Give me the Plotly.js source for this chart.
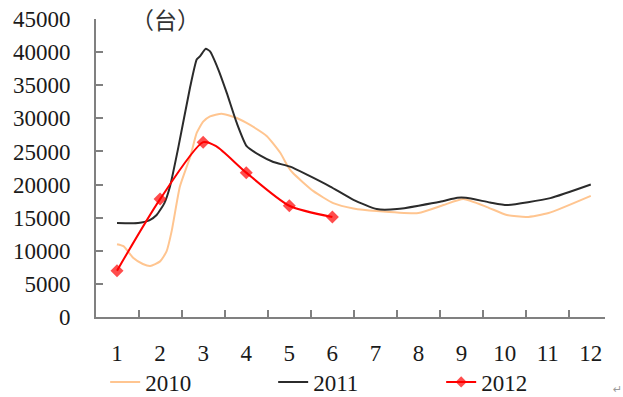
<!DOCTYPE html>
<html>
<head>
<meta charset="utf-8">
<script src="https://cdn.plot.ly/plotly-3.0.1.min.js"></script>
<style>html,body{margin:0;padding:0;background:#fff;}#chart{width:623px;height:397px;}</style>
</head>
<body>
<div id="chart"></div>
<script>
// ---- data (units: 台) ----
const monthLabels = ['1','2','3','4','5','6','7','8','9','10','11','12'];
const monthPos = [1,2,3,4,5,6,7,8,9,10,11,12];
const tickBetween = [1.5,2.5,3.5,4.5,5.5,6.5,7.5,8.5,9.5,10.5,11.5];
const yTicks = [0,5000,10000,15000,20000,25000,30000,35000,40000,45000];

const x2010 = [1.0,1.15,1.38,1.6,1.77,2.0,2.15,2.27,2.46,2.7,2.85,3.0,3.16,3.43,3.78,4.09,4.48,4.79,4.97,5.09,5.56,6.02,6.49,7.03,8.0,8.58,9.04,9.59,10.05,10.51,11.02,12.0];
const y2010 = [11000,10700,8900,8000,7700,8400,9900,13000,19700,24200,27800,29500,30300,30700,30050,29000,27300,24800,22700,21700,19000,17200,16400,16000,15700,16900,17800,16600,15400,15100,15700,18300];

const x2011 = [1.0,1.49,1.75,1.92,2.1,2.23,2.42,2.7,2.85,2.93,3.06,3.16,3.35,3.55,3.78,4.01,4.32,4.63,5.02,5.41,5.95,6.49,7.03,7.5,8.5,8.9,9.1,9.66,10.05,11.06,12.0];
const y2011 = [14200,14200,14600,15400,17200,19700,25500,34800,38900,39400,40500,40100,37400,33800,29300,25800,24400,23400,22700,21500,19700,17700,16300,16300,17400,18000,18000,17300,16900,17950,20000];

const x2012 = [1,2,3,3.3,4,5,6];
const y2012 = [7000,17800,26400,25800,21800,16800,15100];
const m2012 = [10,10,10,0,10,10,10];

const serif = '"Liberation Serif", "Times New Roman", serif';
const gray = '#808080';
const ink = '#1a1a1a';

const traces = [
  {x:x2010, y:y2010, name:'2010', type:'scatter', mode:'lines',
   line:{color:'#FFC590', width:2, shape:'spline', smoothing:0.5}},
  {x:x2011, y:y2011, name:'2011', type:'scatter', mode:'lines',
   line:{color:'#2b2b2b', width:2, shape:'spline', smoothing:0.5}},
  {x:x2012, y:y2012, name:'2012', type:'scatter', mode:'lines+markers',
   line:{color:'#FF0000', width:2, shape:'spline', smoothing:0.7},
   marker:{symbol:'diamond', size:m2012, color:'#FF0000', line:{width:0}}},
  // carrier for the month labels (invisible)
  {x:monthPos, y:monthPos.map(()=>null), xaxis:'x2', yaxis:'y', showlegend:false, hoverinfo:'skip', mode:'lines'}
];

const xr = [0.512, 12.33];
const layout = {
  width:623, height:397,
  margin:{l:96, r:18, t:19, b:80, autoexpand:false},
  paper_bgcolor:'#fff', plot_bgcolor:'#fff',
  font:{family:serif, size:23, color:ink},
  showlegend:true,
  xaxis:{range:xr, tickmode:'array', tickvals:tickBetween, showticklabels:false,
         ticks:'inside', ticklen:7, tickwidth:2, tickcolor:gray,
         showline:true, linecolor:gray, linewidth:2, showgrid:false, zeroline:false, fixedrange:true},
  xaxis2:{range:xr, overlaying:'x', anchor:'y', side:'bottom', tickmode:'array',
          tickvals:monthPos, ticktext:monthLabels, ticks:'outside', ticklen:15,
          tickcolor:'rgba(0,0,0,0)', showline:false, showgrid:false, zeroline:false,
          tickfont:{family:serif, size:23, color:ink}},
  yaxis:{range:[0,45000], tickmode:'array', tickvals:yTicks, tickformat:'d',
         ticks:'inside', ticklen:7, tickwidth:2, tickcolor:gray, ticklabelstandoff:19,
         showline:true, linecolor:gray, linewidth:2, showgrid:false, zeroline:false,
         tickfont:{family:serif, size:23, color:ink}},
  legend:{orientation:'h', x:0.018, xanchor:'left', y:-0.218, yanchor:'middle',
          font:{family:serif, size:23, color:ink}, entrywidth:123, itemwidth:30, bgcolor:'rgba(0,0,0,0)'},
  annotations:[
    {text:'（台）', xref:'paper', yref:'paper', x:0.1356, y:1.0, xanchor:'center', yanchor:'middle',
     showarrow:false, font:{family:'"Noto Sans CJK SC", sans-serif', size:23, color:'#333'}},
    {text:'↵', xref:'paper', yref:'paper', x:(617-96)/509, y:(317-389)/298, xanchor:'center', yanchor:'middle',
     showarrow:false, font:{family:'"DejaVu Sans", sans-serif', size:11, color:'#999'}}
  ]
};

Plotly.newPlot('chart', traces, layout, {displayModeBar:false, staticPlot:true});
</script>
</body>
</html>
